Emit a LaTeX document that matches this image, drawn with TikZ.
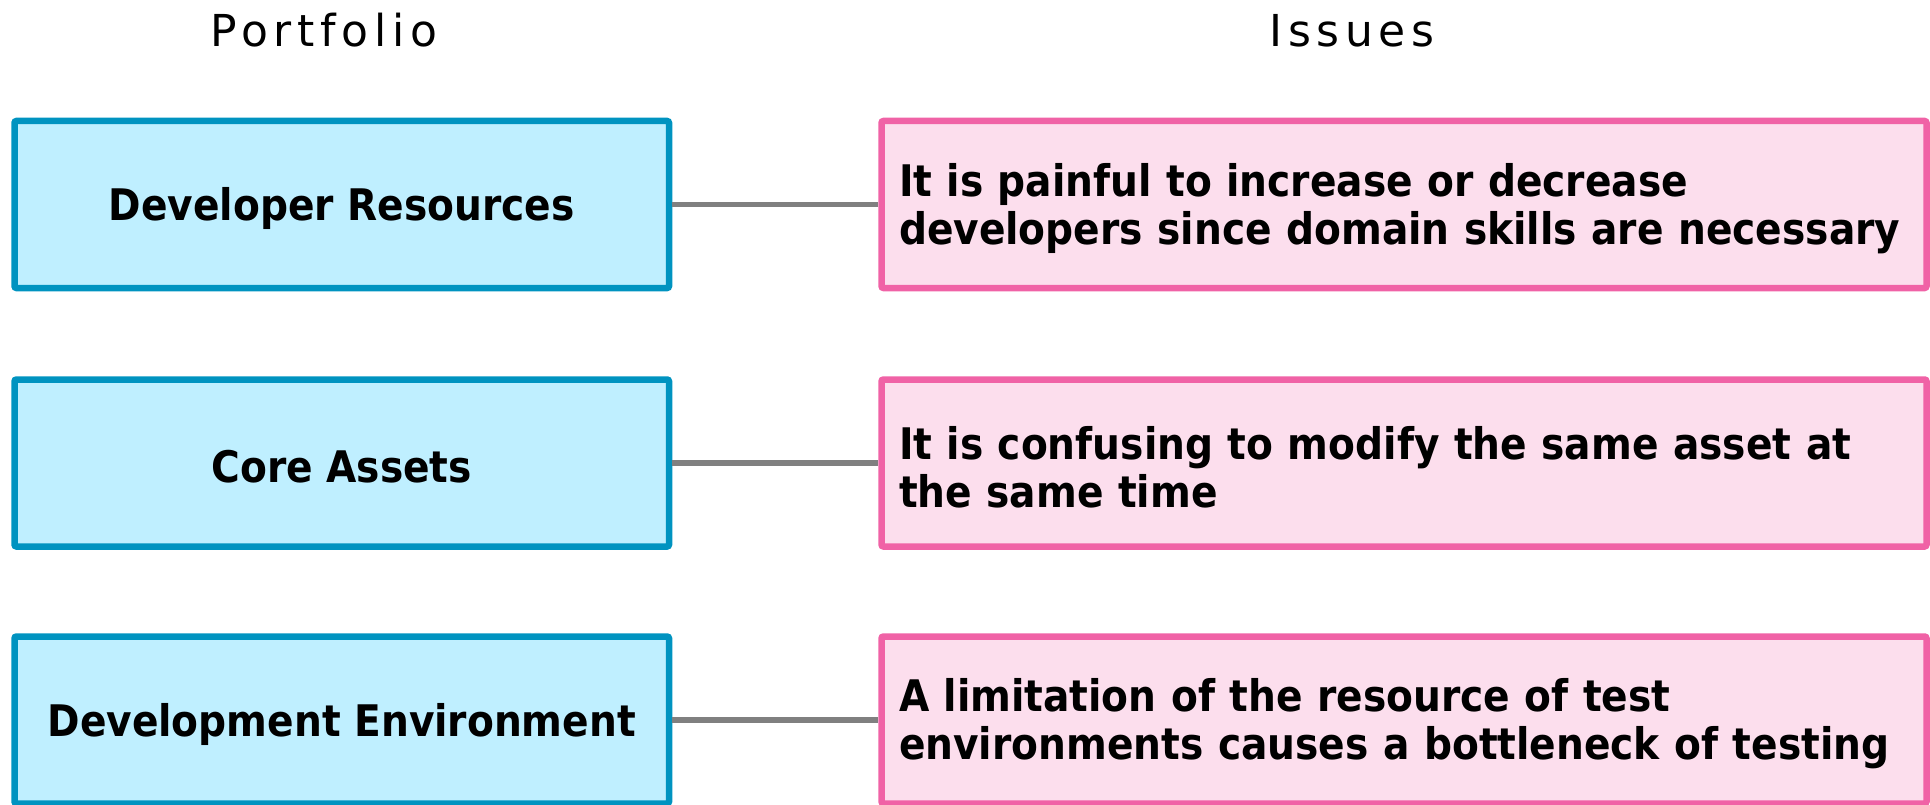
\documentclass[tikz,border=0pt]{standalone}
\usepackage{fontspec}
\setmainfont{DejaVu Sans}
\newfontfamily\boxfont{DejaVu Sans Condensed Bold}
\newfontfamily\headfont{DejaVu Sans}[LetterSpace=13]
\definecolor{portfill}{RGB}{191,239,255}
\definecolor{portline}{RGB}{0,147,192}
\definecolor{issuefill}{RGB}{252,222,237}
\definecolor{issueline}{RGB}{240,98,166}
\definecolor{linkgray}{RGB}{128,128,128}
% box text sits a little below the geometric centre
\newcommand\boxtext[1]{\raisebox{-4pt}[\height][\depth]{#1}}
\newcommand\issuetext[1]{\boxtext{\parbox[c]{1010pt}{\raggedright #1}}}
\tikzset{
  portbox/.style={draw=portline, fill=portfill, line width=6.5pt, rounded corners=2pt,
    minimum width=654.5pt, minimum height=167pt, inner sep=0pt,
    font=\boxfont\fontsize{43.5}{48}\selectfont, align=center},
  issuebox/.style={draw=issueline, fill=issuefill, line width=6.5pt, rounded corners=2pt,
    minimum width=1045pt, minimum height=167pt, inner sep=0pt,
    text width=1010pt, align=left, font=\boxfont\fontsize{43.5}{48}\selectfont},
  heading/.style={font=\headfont\fontsize{44}{50}\selectfont, anchor=base, inner sep=0pt},
  link/.style={draw=linkgray, line width=5.3pt}
}
\begin{document}
\begin{tikzpicture}[x=1pt,y=-1pt]
\useasboundingbox (0,0) rectangle (1930,805);
\node[heading] (hport) at (324,47) {Portfolio};
\node[heading] (hissue) at (1352,47) {Issues};

\node[portbox] (p1) at (341.75,204.5) {\boxtext{Developer Resources}};
\node[portbox] (p2) at (341.75,463) {\boxtext{Core Assets}};
\node[portbox] (p3) at (341.75,720) {\boxtext{Development Environment}};

\node[issuebox] (i1) at (1404,204.5) {\issuetext{It is painful to increase or decrease\\developers since domain skills are necessary}};
\node[issuebox] (i2) at (1404,463) {\issuetext{It is confusing to modify the same asset at\\the same time}};
\node[issuebox] (i3) at (1404,720) {\issuetext{A limitation of the resource of test\\environments causes a bottleneck of testing}};

\draw[link] (p1.east) -- (i1.west);
\draw[link] (p2.east) -- (i2.west);
\draw[link] (p3.east) -- (i3.west);
\end{tikzpicture}
\end{document}
